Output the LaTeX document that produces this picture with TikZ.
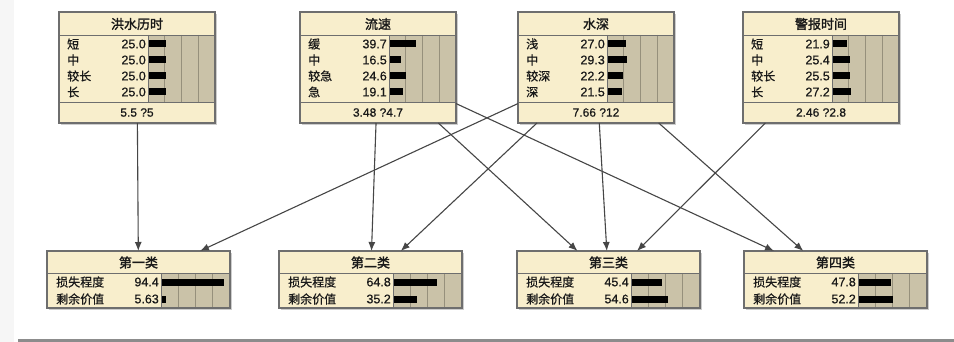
\documentclass[tikz,border=0pt]{standalone}
\usepackage{fontspec}
\setmainfont[FakeBold=0.6]{Liberation Sans}
\newfontfamily\numf[FakeBold=0.6]{Liberation Sans}
\newfontfamily\cjk[FakeBold=0.6]{Noto Sans CJK SC}
\newfontfamily\cjkb[FakeBold=1.8]{Noto Sans CJK SC}
\usetikzlibrary{arrows.meta}
\definecolor{cream}{RGB}{248,238,204}
\definecolor{barbg}{RGB}{202,194,168}
\definecolor{divc}{RGB}{150,144,124}
\definecolor{bordc}{RGB}{110,110,110}
\definecolor{edgec}{RGB}{70,70,70}
\definecolor{shadc}{RGB}{205,205,205}
\definecolor{stripc}{RGB}{246,246,246}
\definecolor{linec}{RGB}{140,140,140}
\definecolor{txtc}{RGB}{25,25,25}
\tikzset{
  frame/.style={draw=bordc, line width=1.2pt, anchor=north west, inner sep=0pt, outer sep=0pt},
  titletext/.style={inner sep=0pt, text=txtc, font={\cjkb\fontsize{13}{13}\selectfont}},
  rowlab/.style={anchor=west, inner sep=0pt, text=txtc, font={\cjk\fontsize{12}{12}\selectfont}},
  rowval/.style={anchor=east, inner sep=0pt, text=txtc, font={\numf\fontsize{12.5}{12.5}\selectfont}},
  foottext/.style={inner sep=0pt, text=txtc, font={\numf\fontsize{12}{12}\selectfont}},
  edge/.style={-{Latex[length=9pt,width=7pt]}, draw=edgec, line width=1.1pt},
  divline/.style={draw=divc, line width=0.8pt},
  sepline/.style={draw=bordc, line width=0.9pt}
}
\newcommand\TopNode[5]{%
 \begin{scope}[shift={(#2,12)}]
  \fill[shadc] (2,2) rectangle (158,113);
  \fill[cream] (0,0) rectangle (156,111);
  \fill[barbg] (89,23) rectangle (156,90);
  \foreach \q in {1,2,3} \draw[divline] ({89+\q*16.75},23) -- ({89+\q*16.75},90);
  \draw[sepline] (0,23) -- (156,23) (0,90) -- (156,90) (89,23) -- (89,90);
  \node[titletext] at (78,12) {#3};
  \foreach \lab/\val [count=\i] in {#4} {
    \pgfmathsetmacro\yy{16+16*\i}
    \node[rowlab] at (8,\yy) {\lab};
    \node[rowval] at (87,\yy) {\val};
    \fill (90,\yy-3.5) rectangle ({90+\val*0.66},\yy+3.5);
  }
  \node[foottext] at (78,100.5) {#5};
 \end{scope}
 \node[frame, minimum width=156pt, minimum height=111pt] (#1) at (#2,12) {};
}
\newcommand\BotNode[5]{%
 \begin{scope}[shift={(#2,251)}]
  \fill[shadc] (2,2) rectangle (185,59);
  \fill[cream] (0,0) rectangle (183,57);
  \fill[barbg] (114,22) rectangle (183,57);
  \foreach \q in {1,2,3} \draw[divline] ({114+\q*17.25},22) -- ({114+\q*17.25},57);
  \draw[sepline] (0,22) -- (183,22) (114,22) -- (114,57);
  \node[titletext] at (91.5,11.5) {#3};
  \node[rowlab] at (9,31) {损失程度};
  \node[rowval] at (112,31) {#4};
  \fill (115,27.5) rectangle ({115+#4*0.66},34.5);
  \node[rowlab] at (9,48) {剩余价值};
  \node[rowval] at (112,48) {#5};
  \fill (115,44.5) rectangle ({115+#5*0.66},51.5);
 \end{scope}
 \node[frame, minimum width=183pt, minimum height=57pt] (#1) at (#2,251) {};
}
\begin{document}
\begin{tikzpicture}[x=1pt,y=-1pt]
\useasboundingbox (0,0) rectangle (954,342);
\fill[white] (0,0) rectangle (954,342);
\fill[stripc] (0,0) rectangle (14,342);
\fill[linec] (18,339) rectangle (954,342);
\TopNode{t1}{59}{洪水历时}{短/25.0,中/25.0,较长/25.0,长/25.0}{5.5 ?5}
\TopNode{t2}{300}{流速}{缓/39.7,中/16.5,较急/24.6,急/19.1}{3.48 ?4.7}
\TopNode{t3}{518}{水深}{浅/27.0,中/29.3,较深/22.2,深/21.5}{7.66 ?12}
\TopNode{t4}{743}{警报时间}{短/21.9,中/25.4,较长/25.5,长/27.2}{2.46 ?2.8}
\BotNode{b1}{47}{第一类}{94.4}{5.63}
\BotNode{b2}{279}{第二类}{64.8}{35.2}
\BotNode{b3}{517}{第三类}{45.4}{54.6}
\BotNode{b4}{744}{第四类}{47.8}{52.2}
\draw[edge] (t1) -- (b1);
\draw[edge] (t2) -- (b2);
\draw[edge] (t2) -- (b3);
\draw[edge] (t2) -- (b4);
\draw[edge] (t3) -- (b1);
\draw[edge] (t3) -- (b2);
\draw[edge] (t3) -- (b3);
\draw[edge] (t3) -- (b4);
\draw[edge] (t4) -- (b3);
\end{tikzpicture}
\end{document}
